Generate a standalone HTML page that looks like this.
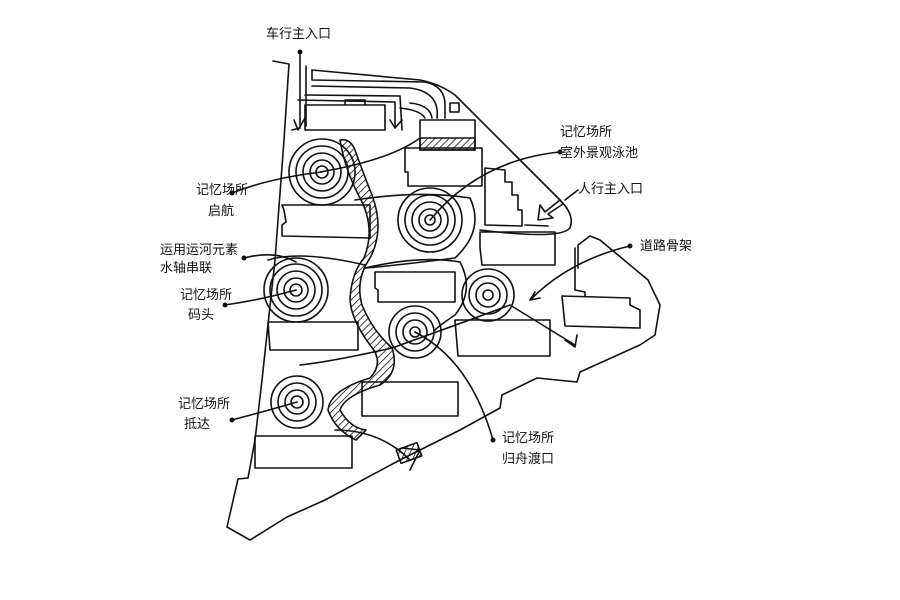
<!DOCTYPE html>
<html><head><meta charset="utf-8"><style>
html,body{margin:0;padding:0;background:#fff}
svg{display:block}
text{font-family:"Liberation Sans","Noto Sans CJK SC",sans-serif;font-size:13px;fill:#111}
</style></head><body>
<svg width="900" height="600" viewBox="0 0 900 600" xmlns="http://www.w3.org/2000/svg">
<defs>
<pattern id="h" width="5" height="5" patternUnits="userSpaceOnUse" patternTransform="rotate(45)">
<line x1="0" y1="0" x2="0" y2="5" stroke="#111" stroke-width="1.6"/></pattern>
</defs>
<g fill="none" stroke="#111" stroke-width="1.6" stroke-linecap="round" stroke-linejoin="round">
<!-- site boundary -->
<path d="M273 61 L289 64 L284 140 L275 260 L262 380 L255 440 L248 478 L238 479 L227 527 L250 540 L287 517 L325 500 L400 460 L460 430 L500 408 L502 395 L537 378 L577 382 L580 372 L640 345 L655 335 L660 305 L648 280 L600 240 L590 236 L578 245 L578 268"/>
<path d="M312 70 L420 80 Q440 84 455 95 L510 150 L560 200 Q575 215 570 228 Q560 240 480 230"/>
<!-- roads top -->
<path d="M300 72 L300 128 L292 130 M306 66 L306 126"/>
<path d="M312 70 L312 80 L425 82 Q445 86 445 105 L445 118"/>
<path d="M312 86 L410 88 Q440 92 437 118"/>
<path d="M298 100 L395 102 L395 128 M305 95 L400 96 L402 130"/>
<path d="M294 120 L298 130 L305 118 M390 120 L395 128 L402 120"/>
<path d="M400 108 Q420 110 425 118 M410 103 Q430 105 432 118"/>
<rect x="450" y="103" width="9" height="9"/>
<!-- buildings -->
<path d="M305 105 L385 105 L385 130 L305 130 Z M345 105 L345 100 L365 100 L365 105"/>
<path d="M420 120 L475 120 L475 150 L420 150 Z"/>
<rect x="420" y="138" width="55" height="12" fill="url(#h)"/>
<path d="M405 148 L482 148 L482 186 L408 186 L408 172 L405 172 Z"/>
<path d="M282 205 L370 205 L370 238 L282 236 L282 225 L286 222 L284 210 Z"/>
<path d="M485 168 L505 170 L505 182 L512 182 L512 195 L518 195 L518 210 L522 210 L522 226 L485 225 Z"/>
<path d="M480 232 L555 232 L555 265 L482 265 L480 248 Z"/>
<path d="M375 272 L455 272 L455 302 L378 302 L378 290 L375 288 Z"/>
<path d="M455 320 L550 320 L550 356 L458 356 Z"/>
<path d="M268 322 L358 322 L358 350 L270 350 Z"/>
<path d="M362 382 L458 382 L458 416 L362 416 Z"/>
<path d="M255 436 L352 436 L352 468 L255 468 Z"/>
<path d="M562 296 L630 298 L630 305 L640 310 L640 328 L565 326 Z"/>
<path d="M575 248 L575 290 L585 292 L585 296"/>
<!-- waterway -->
<path d="M340 140 Q350 138 355 150 Q362 170 372 195 Q385 230 370 258 Q355 280 362 305 Q372 330 392 348 Q400 372 380 385 Q345 395 340 410 Q350 428 366 430 L356 440 Q335 430 328 410 Q330 390 370 378 Q385 362 370 345 Q350 318 350 298 Q352 272 364 258 Q376 228 360 198 Q345 170 340 140 Z" fill="url(#h)"/>
<!-- circles -->
<g>
<circle cx="322" cy="172" r="6"/><circle cx="322" cy="172" r="12"/><circle cx="322" cy="172" r="19"/><circle cx="322" cy="172" r="26"/><circle cx="322" cy="172" r="33"/>
<circle cx="430" cy="220" r="5"/><circle cx="430" cy="220" r="11"/><circle cx="430" cy="220" r="18"/><circle cx="430" cy="220" r="25"/><circle cx="430" cy="220" r="32"/>
<circle cx="296" cy="290" r="6"/><circle cx="296" cy="290" r="12"/><circle cx="296" cy="290" r="19"/><circle cx="296" cy="290" r="26"/><circle cx="296" cy="290" r="32"/>
<circle cx="488" cy="295" r="5"/><circle cx="488" cy="295" r="12"/><circle cx="488" cy="295" r="19"/><circle cx="488" cy="295" r="26"/>
<circle cx="415" cy="332" r="5"/><circle cx="415" cy="332" r="12"/><circle cx="415" cy="332" r="19"/><circle cx="415" cy="332" r="26"/>
<circle cx="297" cy="402" r="6"/><circle cx="297" cy="402" r="12"/><circle cx="297" cy="402" r="19"/><circle cx="297" cy="402" r="26"/>
</g>
<!-- paths loops -->
<path d="M355 200 Q420 190 470 198 Q485 230 455 258 Q400 265 365 268"/>
<path d="M365 268 Q420 255 460 262 Q475 290 455 315 Q440 325 435 330"/>
<path d="M268 260 Q300 250 365 265"/>
<path d="M300 365 Q330 362 392 348 Q470 320 510 305 L575 345 M565 340 L575 347 L577 335"/>
<path d="M335 430 Q380 430 410 460 M402 448 L420 450 L410 470"/>
<rect x="398" y="446" width="22" height="14" fill="url(#h)" transform="rotate(-20 409 453)"/>
<path d="M320 172 Q390 160 420 138"/>
<!-- pedestrian arrow -->
<path d="M560 200 L545 212 L540 205 L538 220 L553 218 L548 214 L563 204 Z"/>
<path d="M525 225 L548 226"/>
<!-- leaders -->
<path d="M232 193 Q270 178 322 172"/>
<path d="M244 258 Q275 250 296 262"/>
<path d="M225 305 Q260 300 296 290"/>
<path d="M232 420 Q270 410 297 402"/>
<path d="M560 152 Q480 160 430 220"/>
<path d="M578 190 L565 200"/>
<path d="M630 246 Q570 260 530 300 L535 292 M530 300 L540 298"/>
<path d="M415 332 Q470 360 493 440"/>
<path d="M300 52 L300 72"/>
</g>
<g fill="#111">
<circle cx="300" cy="52" r="2.5"/><circle cx="232" cy="193" r="2.5"/><circle cx="244" cy="258" r="2.5"/>
<circle cx="225" cy="305" r="2.5"/><circle cx="232" cy="420" r="2.5"/><circle cx="560" cy="152" r="2.5"/>
<circle cx="630" cy="246" r="2.5"/><circle cx="493" cy="440" r="2.5"/>
</g>
<text x="266" y="38">车行主入口</text>
<text x="560" y="136">记忆场所</text>
<text x="560" y="157">室外景观泳池</text>
<text x="578" y="193">人行主入口</text>
<text x="640" y="250">道路骨架</text>
<text x="196" y="194">记忆场所</text>
<text x="208" y="215">启航</text>
<text x="160" y="254">运用运河元素</text>
<text x="160" y="272">水轴串联</text>
<text x="180" y="299">记忆场所</text>
<text x="188" y="319">码头</text>
<text x="178" y="408">记忆场所</text>
<text x="184" y="428">抵达</text>
<text x="502" y="442">记忆场所</text>
<text x="502" y="463">归舟渡口</text>
</svg>
</body></html>
